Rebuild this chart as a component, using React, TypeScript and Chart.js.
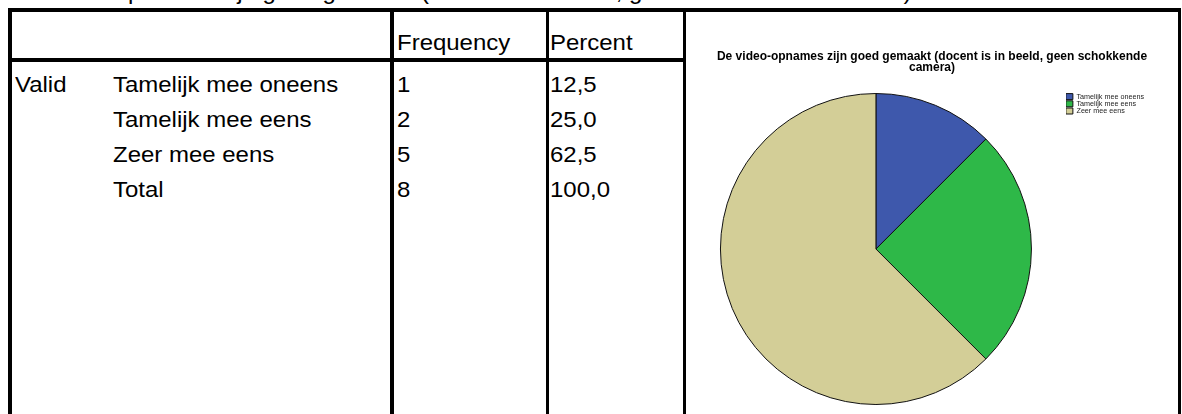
import React, { useEffect, useRef } from 'react';
import { Chart, registerables } from 'chart.js';

Chart.register(...registerables);

// ---- data ----
const categories = ['Tamelijk mee oneens', 'Tamelijk mee eens', 'Zeer mee eens'];
const frequencies = [1, 2, 5];
const percentLabels = ['12,5', '25,0', '62,5'];
const totalLabel = 'Total';
const totalFrequency = '8';
const totalPercent = '100,0';
const validLabel = 'Valid';
const headerLabels = ['Frequency', 'Percent'];
const sliceColors = ['#3E58AC', '#2EB848', '#D3CE97'];
const chartTitle = [
  'De video-opnames zijn goed gemaakt (docent is in beeld, geen schokkende',
  'camera)',
];
const caption = 'De video-opnames zijn goed gemaakt (docent is in beeld, geen schokkende camera)';

const FONT = '"Liberation Sans", Arial, Helvetica, sans-serif';
const FS = 21.5;
const SX = 1.115;

function Txt({ x, base, children }: { x: number; base: number; children: React.ReactNode }) {
  return (
    <div
      style={{
        position: 'absolute',
        left: x,
        top: base - 18.2,
        fontSize: FS,
        lineHeight: FS + 'px',
        fontFamily: FONT,
        whiteSpace: 'nowrap',
        transform: `scaleX(${SX})`,
        transformOrigin: '0 0',
        color: '#000',
      }}
    >
      {children}
    </div>
  );
}

function Line({ x, y, w, h }: { x: number; y: number; w: number; h: number }) {
  return <div style={{ position: 'absolute', left: x, top: y, width: w, height: h, background: '#000' }} />;
}

const legendGap = {
  id: 'legendGap',
  beforeLayout(chart: any) {
    const lg = chart.legend;
    if (lg && !lg.__patched) {
      const fit = lg.fit;
      lg.fit = function () {
        fit.call(this);
        this.width += 24;
      };
      lg.__patched = true;
    }
  },
};

function PieChart() {
  const ref = useRef<HTMLCanvasElement | null>(null);
  useEffect(() => {
    if (!ref.current) return;
    const chart = new Chart(ref.current, {
      type: 'pie',
      data: {
        labels: categories,
        datasets: [
          {
            data: frequencies,
            backgroundColor: sliceColors,
            borderColor: '#111',
            borderWidth: 1,
          },
        ],
      },
      options: {
        responsive: false,
        animation: false,
        layout: { padding: { top: 0, right: 0, bottom: 9, left: 0 } },
        plugins: {
          title: {
            display: true,
            text: chartTitle,
            color: '#000',
            font: { family: FONT, size: 12, weight: 'bold', lineHeight: 11 / 12 },
            padding: { top: 39, bottom: 20 },
          },
          legend: {
            position: 'right',
            align: 'start',
            fullSize: false,
            labels: {
              boxWidth: 7,
              boxHeight: 6,
              padding: 0,
              color: '#222',
              font: { family: FONT, size: 7.2 },
            },
          },
          tooltip: { enabled: false },
        },
      },
      plugins: [legendGap],
    } as any);
    return () => chart.destroy();
  }, []);
  return <canvas ref={ref} width={492} height={402} style={{ width: 492, height: 402, display: 'block' }} />;
}

export default function App() {
  const rowBases = [92.7, 127.7, 162.7, 197.7];
  const headBase = 51.5;
  return (
    <div
      style={{
        position: 'fixed',
        left: 0,
        top: 0,
        width: 1182,
        height: 414,
        overflow: 'hidden',
        background: '#fff',
      }}
    >
      {/* cut-off caption above the table */}
      <Txt x={12} base={0}>{caption}</Txt>

      {/* table grid */}
      <Line x={8} y={8} w={1173} h={4} />
      <Line x={8} y={8} w={4} h={406} />
      <Line x={8} y={58} w={678} h={4} />
      <Line x={390} y={8} w={4} h={406} />
      <Line x={546} y={8} w={3} h={406} />
      <Line x={683} y={8} w={3} h={406} />
      <Line x={1178} y={8} w={3} h={406} />

      {/* header */}
      <Txt x={397} base={headBase}>{headerLabels[0]}</Txt>
      <Txt x={550} base={headBase}>{headerLabels[1]}</Txt>

      {/* body */}
      <Txt x={15} base={rowBases[0]}>{validLabel}</Txt>
      {categories.map((c, i) => (
        <React.Fragment key={c}>
          <Txt x={113} base={rowBases[i]}>{c}</Txt>
          <Txt x={397} base={rowBases[i]}>{String(frequencies[i])}</Txt>
          <Txt x={550} base={rowBases[i]}>{percentLabels[i]}</Txt>
        </React.Fragment>
      ))}
      <Txt x={113} base={rowBases[3]}>{totalLabel}</Txt>
      <Txt x={397} base={rowBases[3]}>{totalFrequency}</Txt>
      <Txt x={550} base={rowBases[3]}>{totalPercent}</Txt>

      {/* chart cell */}
      <div style={{ position: 'absolute', left: 686, top: 12, width: 492, height: 402 }}>
        <PieChart />
      </div>
    </div>
  );
}
